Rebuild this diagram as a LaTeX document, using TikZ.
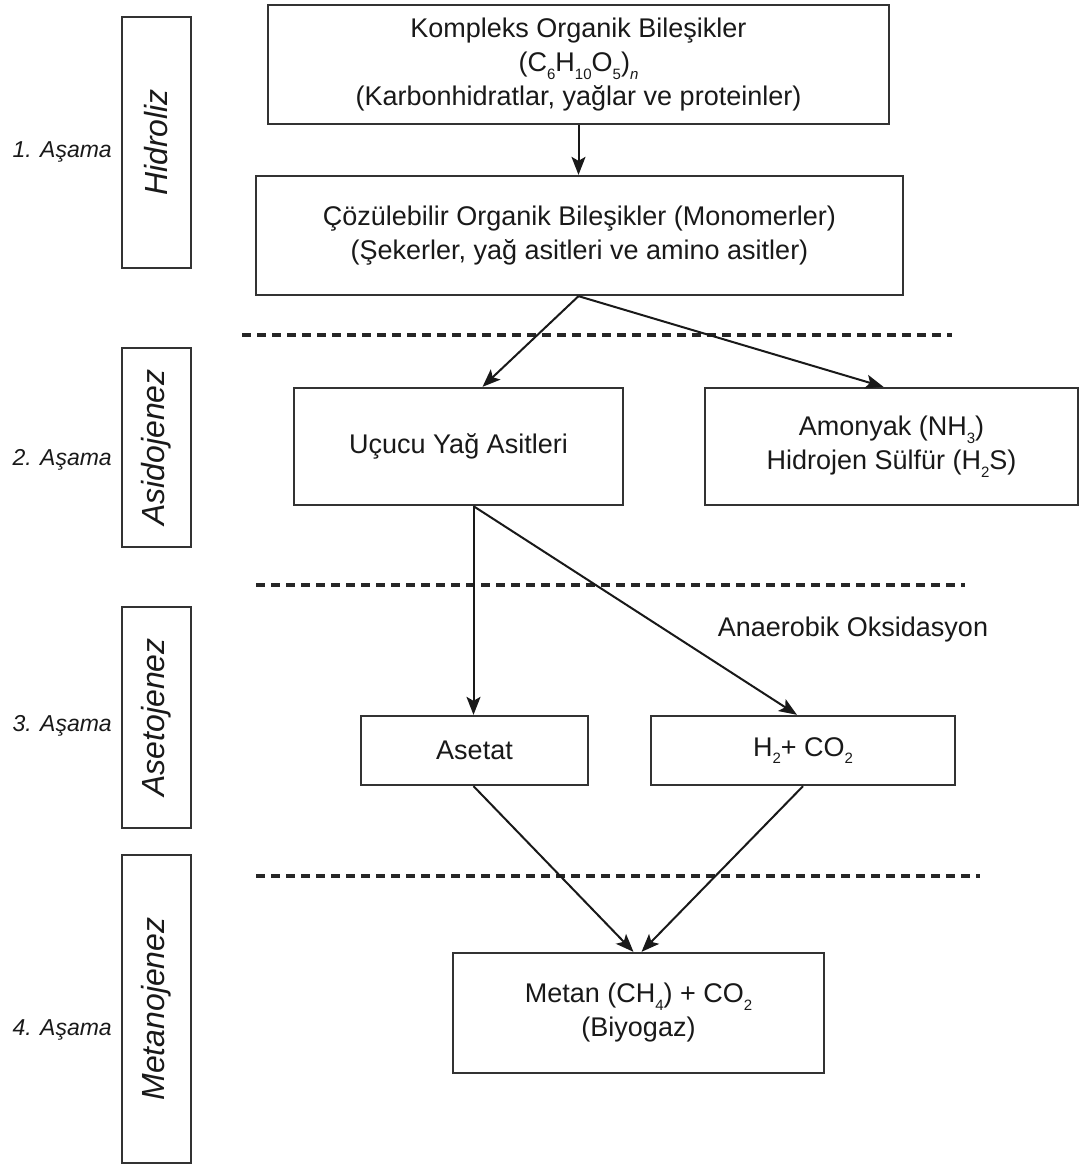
\documentclass[tikz,border=0pt]{standalone}
\usepackage{fontspec}
\setmainfont{Liberation Sans}
\usetikzlibrary{arrows.meta}
\newcommand{\chs}[1]{\raisebox{-0.55ex}{\fontsize{15}{15}\selectfont #1}}
\begin{document}
\begin{tikzpicture}[x=1pt,y=-1pt,
  box/.style={draw=black!80, line width=2.3pt, inner sep=0pt, align=center,
    font=\fontsize{27}{34}\selectfont, text=black!90},
  stagebox/.style={draw=black!80, line width=2.3pt, inner sep=0pt, minimum width=69,
    font=\fontsize{31}{36}\selectfont\itshape, text=black!90},
  vtext/.style={rotate=90, font=\fontsize{32}{36}\selectfont\itshape, text=black!90},
  stagelbl/.style={anchor=east, inner sep=0pt, font=\fontsize{23}{28}\selectfont\itshape, text=black!90},
  sep/.style={draw=black!85, line width=3.5pt, dash pattern=on 9pt off 6pt},
  arr/.style={draw=black!90, line width=2pt, -{Stealth[length=18pt,width=14pt,inset=4pt]}},
  lbl/.style={inner sep=0pt, font=\fontsize{27}{34}\selectfont, text=black!90}
]
\useasboundingbox (0,0) rectangle (1083,1165);
\fill[white] (0,0) rectangle (1083,1165);

% stage boxes
\node[stagebox, minimum height=251] (hid) at (156.5,142.5) {};
\node[vtext] (hidt) at (hid.center) {Hidroliz};
\node[stagebox, minimum height=199] (asid) at (156.5,447.5) {};
\node[vtext] (asidt) at (asid.center) {Asidojenez};
\node[stagebox, minimum height=221] (aset) at (156.5,717.5) {};
\node[vtext] (asett) at (aset.center) {Asetojenez};
\node[stagebox, minimum height=308] (met) at (156.5,1009) {};
\node[vtext] (mett) at (met.center) {Metanojenez};

\node[stagelbl] (s1) at (112,152) {1. Aşama};
\node[stagelbl] (s2) at (112,460) {2. Aşama};
\node[stagelbl] (s3) at (112,726) {3. Aşama};
\node[stagelbl] (s4) at (112,1030) {4. Aşama};

% main boxes
\node[box, minimum width=621, minimum height=119] (kom) at (578.5,64.5)
  {Kompleks Organik Bileşikler\\(C\chs{6}H\chs{10}O\chs{5})\chs{\itshape n}\\(Karbonhidratlar, yağlar ve proteinler)};
\node[box, minimum width=647, minimum height=119] (coz) at (579.5,235.5)
  {Çözülebilir Organik Bileşikler (Monomerler)\\(Şekerler, yağ asitleri ve amino asitler)};
\node[box, minimum width=329, minimum height=117] (ucu) at (458.5,446.5) {Uçucu Yağ Asitleri};
\node[box, minimum width=373, minimum height=117] (amo) at (891.5,446.5)
  {Amonyak (NH\chs{3})\\Hidrojen Sülfür (H\chs{2}S)};
\node[box, minimum width=227, minimum height=69] (acet) at (474.5,750.5) {Asetat};
\node[box, minimum width=304, minimum height=69] (hco) at (803,750.5) {H\chs{2}+ CO\chs{2}};
\node[box, minimum width=371, minimum height=120] (mtn) at (638.5,1013)
  {Metan (CH\chs{4}) + CO\chs{2}\\(Biyogaz)};

\node[lbl] (ox) at (853,630) {Anaerobik Oksidasyon};

% separators
\coordinate (d1a) at (242,335); \coordinate (d1b) at (952,335);
\coordinate (d2a) at (256,585); \coordinate (d2b) at (965,585);
\coordinate (d3a) at (256,876); \coordinate (d3b) at (980,876);
\draw[sep] (d1a) -- (d1b);
\draw[sep] (d2a) -- (d2b);
\draw[sep] (d3a) -- (d3b);

% arrows
\draw[arr] (kom.south) -- (kom.south |- coz.north);
\draw[arr] ([xshift=-1pt]coz.south) -- ([xshift=24pt]ucu.north);
\draw[arr] ([xshift=-1pt]coz.south) -- ([xshift=-8pt]amo.north);
\draw[arr] ([xshift=15pt]ucu.south) -- ([xshift=15pt]ucu.south |- acet.north);
\draw[arr] ([xshift=15pt]ucu.south) -- ([xshift=-6pt]hco.north);
\draw[arr] ([xshift=-1pt]acet.south) -- ([xshift=-5pt]mtn.north);
\draw[arr] (hco.south) -- ([xshift=3pt]mtn.north);
\end{tikzpicture}
\end{document}
